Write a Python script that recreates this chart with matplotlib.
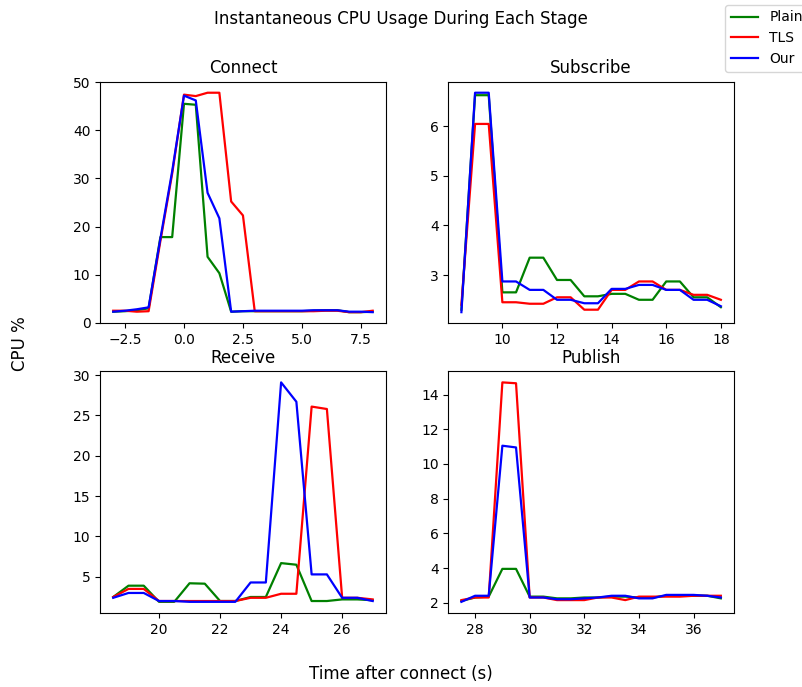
import numpy as np
import matplotlib
matplotlib.use("Agg")
import matplotlib.pyplot as plt

# 단계별 시간 (s)
connect_t = np.arange(-3.0, 8.01, 0.5)
subscribe_t = np.arange(8.5, 18.01, 0.5)
receive_t = np.arange(18.5, 27.01, 0.5)
publish_t = np.arange(27.5, 37.01, 0.5)

# Connect
connect_plain = [2.3, 2.4, 2.6, 3.0, 17.8, 17.8, 45.5, 45.3, 13.7, 10.3, 2.3, 2.4,
                 2.4, 2.4, 2.4, 2.4, 2.4, 2.5, 2.6, 2.6, 2.2, 2.2, 2.3]
connect_tls = [2.5, 2.5, 2.3, 2.4, 17.0, 31.0, 47.4, 47.1, 47.8, 47.8, 25.2, 22.3,
               2.4, 2.4, 2.4, 2.4, 2.4, 2.4, 2.5, 2.5, 2.2, 2.2, 2.5]
connect_our = [2.3, 2.5, 2.8, 3.2, 17.5, 31.5, 47.2, 46.2, 27.0, 21.7, 2.3, 2.4,
               2.5, 2.5, 2.5, 2.5, 2.5, 2.6, 2.6, 2.6, 2.3, 2.3, 2.2]

# Subscribe
subscribe_plain = [2.3, 6.63, 6.63, 2.65, 2.65, 3.35, 3.35, 2.9, 2.9, 2.57,
                   2.57, 2.62, 2.62, 2.5, 2.5, 2.87, 2.87, 2.55, 2.55, 2.35]
subscribe_tls = [2.4, 6.05, 6.05, 2.45, 2.45, 2.42, 2.42, 2.55, 2.55, 2.3,
                 2.3, 2.7, 2.7, 2.87, 2.87, 2.7, 2.7, 2.6, 2.6, 2.5]
subscribe_our = [2.25, 6.68, 6.68, 2.87, 2.87, 2.7, 2.7, 2.5, 2.5, 2.43,
                 2.43, 2.72, 2.72, 2.8, 2.8, 2.7, 2.7, 2.5, 2.5, 2.37]

# Receive
receive_plain = [2.5, 3.9, 3.9, 1.9, 1.9, 4.2, 4.15, 2.0, 2.0, 2.5, 2.5, 6.7,
                 6.5, 2.0, 2.0, 2.2, 2.2, 2.1]
receive_tls = [2.5, 3.5, 3.5, 2.0, 2.0, 2.0, 2.0, 2.0, 2.0, 2.4, 2.4, 2.9,
               2.9, 26.1, 25.8, 2.4, 2.4, 2.2]
receive_our = [2.4, 3.0, 3.0, 2.0, 2.0, 1.9, 1.9, 1.9, 1.9, 4.3, 4.3, 29.1,
               26.7, 5.3, 5.3, 2.4, 2.4, 2.0]

# Publish
publish_plain = [2.1, 2.3, 2.35, 3.95, 3.95, 2.35, 2.35, 2.25, 2.25, 2.3,
                 2.3, 2.35, 2.35, 2.3, 2.3, 2.4, 2.4, 2.4, 2.4, 2.25]
publish_tls = [2.15, 2.3, 2.3, 14.7, 14.65, 2.3, 2.3, 2.15, 2.15, 2.15,
               2.3, 2.3, 2.15, 2.35, 2.35, 2.35, 2.35, 2.4, 2.4, 2.4]
publish_our = [2.05, 2.4, 2.4, 11.05, 10.95, 2.3, 2.3, 2.2, 2.2, 2.25,
               2.3, 2.4, 2.4, 2.25, 2.25, 2.45, 2.45, 2.45, 2.4, 2.3]

stages = [
    ("Connect", connect_t, connect_plain, connect_tls, connect_our),
    ("Subscribe", subscribe_t, subscribe_plain, subscribe_tls, subscribe_our),
    ("Receive", receive_t, receive_plain, receive_tls, receive_our),
    ("Publish", publish_t, publish_plain, publish_tls, publish_our),
]

fig, axes = plt.subplots(2, 2, figsize=(8.02, 6.87), dpi=100)
fig.subplots_adjust(left=0.125, right=0.915, top=0.881, bottom=0.108,
                    wspace=0.22, hspace=0.2)

for ax, (title, t, plain, tls, our) in zip(axes.flat, stages):
    ax.plot(t, plain, color="green", label="Plain", lw=1.6)
    ax.plot(t, tls, color="red", label="TLS", lw=1.6)
    ax.plot(t, our, color="blue", label="Our", lw=1.6)
    ax.set_title(title)

axes[0, 0].set_xticks([-2.5, 0.0, 2.5, 5.0, 7.5])

handles, labels = axes[0, 0].get_legend_handles_labels()
fig.legend(handles, labels, loc="upper left", bbox_to_anchor=(0.904, 0.993),
           borderaxespad=0)

fig.suptitle("Instantaneous CPU Usage During Each Stage", y=0.986)
fig.supxlabel("Time after connect (s)", y=0.006)
fig.supylabel("CPU %", x=0.014)

plt.savefig("out.png", dpi=100)
